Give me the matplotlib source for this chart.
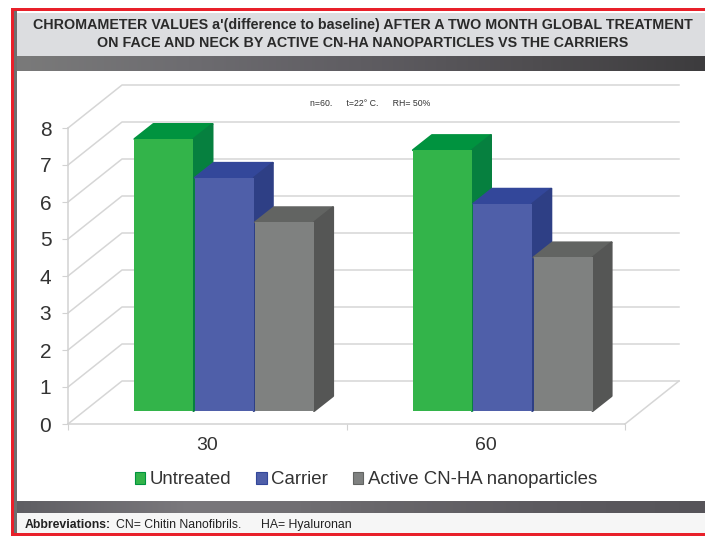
import numpy as np
import matplotlib
matplotlib.use("Agg")
import matplotlib.pyplot as plt
from matplotlib.patches import Polygon, Rectangle, Patch

plt.rcParams['font.family'] = ['Liberation Sans', 'DejaVu Sans']

W : int = 705
H : int = 539

days = ["30", "60"]
series_names = ["Untreated", "Carrier", "Active CN-HA nanoparticles"]
untreated = [7.35, 7.05]
carrier = [6.3, 5.6]
active = [5.1, 4.15]
y_ticks = [0, 1, 2, 3, 4, 5, 6, 7, 8]

title_lines = ["CHROMAMETER VALUES a'(difference to baseline) AFTER A TWO MONTH GLOBAL TREATMENT",
               "ON FACE AND NECK BY ACTIVE CN-HA NANOPARTICLES VS THE CARRIERS"]
note = "n=60.      t=22\u00b0 C.      RH= 50%"

## face, top, side
green = ["#33b44a", "#00933f", "#06803f"]
blue = ["#4f5fa9", "#33479a", "#2e3f85"]
grey = ["#7f8180", "#626462", "#555655"]

## background stuff in pixel coordinates
fig = plt.figure(figsize=(W / 100, H / 100), dpi=100, facecolor="white")
bg = fig.add_axes([0, 0, 1, 1])
bg.set_xlim(0, W)
bg.set_ylim(H, 0)
bg.axis("off")

def band(x0, x1, y0, y1, cols):
    ramp = np.array([matplotlib.colors.to_rgb(c) for c in cols])
    xs = np.linspace(0, len(cols) - 1, 300)
    img = np.stack([np.interp(xs, range(len(cols)), ramp[:, i]) for i in range(3)], axis=-1)
    bg.imshow(img[np.newaxis, :, :], extent=[x0, x1, y1, y0], aspect="auto", zorder=2)

bg.add_patch(Rectangle((17, 13), W - 17, 43, fc="#dcdde0", ec="none", zorder=1))
band(17, W, 56, 71, ["#7a7a7a", "#6d6c70", "#5f5d62", "#4f4d50", "#3d3c3e"])
band(17, W, 501, 513, ["#5f5e63", "#7b797d", "#6a686c", "#5d5b60", "#565459"])
bg.add_patch(Rectangle((17, 513), W - 17, 20, fc="#f6f6f6", ec="none", zorder=1))
bg.add_patch(Rectangle((14, 10), 3, 524, fc="#6e6e6e", ec="none", zorder=3))
bg.add_patch(Rectangle((11, 8), 3, 528, fc="#e8202a", ec="none", zorder=4))
bg.add_patch(Rectangle((11, 8), W - 11, 3, fc="#e8202a", ec="none", zorder=4))
bg.add_patch(Rectangle((11, 533), W - 11, 3, fc="#e8202a", ec="none", zorder=4))
bg.set_xlim(0, W)
bg.set_ylim(H, 0)

bg.text(363, 25, title_lines[0], ha="center", va="center", fontsize=10.3, fontweight="bold", color="#2a2a2a", zorder=5)
bg.text(363, 43, title_lines[1], ha="center", va="center", fontsize=10.3, fontweight="bold", color="#2a2a2a", zorder=5)
bg.text(370, 104, note, ha="center", va="center", fontsize=6.3, color="#333333", zorder=5)
bg.text(25, 525, "Abbreviations:", ha="left", va="center", fontsize=8.8, fontweight="bold", color="#222222", zorder=5)
bg.text(116, 525, "CN= Chitin Nanofibrils.", ha="left", va="center", fontsize=8.8, color="#222222", zorder=5)
bg.text(261, 525, "HA= Hyaluronan", ha="left", va="center", fontsize=8.8, color="#222222", zorder=5)

## chart axes, front plane of the 3d box
ax = fig.add_axes([68 / W, 1 - 424 / H, 557 / W, 296 / H], facecolor="none")
ax.set_xlim(0, 2)
ax.set_ylim(0, 8)
for s in ["top", "right"]:
    ax.spines[s].set_visible(False)
for s in ["left", "bottom"]:
    ax.spines[s].set_color("#d2d2d2")
    ax.spines[s].set_linewidth(1.1)

x_per_px = 2 / 557
y_per_px = 8 / 296
wall_dx = 54 * x_per_px
wall_dy = 43 * y_per_px
bar_dx = 17 * x_per_px
bar_dy = 13 * y_per_px
depth_dx = 19 * x_per_px
depth_dy = 15 * y_per_px
bar_w = 59 * x_per_px

## gridlines on the back wall and left wall
for v in y_ticks:
    ax.plot([0, wall_dx, 2 + wall_dx], [v, v + wall_dy, v + wall_dy], color="#d6d6d6", lw=1.1, clip_on=False, zorder=1)
ax.plot([2, 2 + wall_dx], [0, wall_dy], color="#d6d6d6", lw=1.1, clip_on=False, zorder=1)

## one bar: front face, then top and side
def bar3d(x_mid, val, cols, z):
    x0 = x_mid - bar_w / 2 + bar_dx
    x1 = x0 + bar_w
    ax.bar(x0, val, width=bar_w, bottom=bar_dy, align="edge", color=cols[0], clip_on=False, zorder=z + 0.2)
    top = [(x0, val + bar_dy), (x1, val + bar_dy), (x1 + depth_dx, val + bar_dy + depth_dy), (x0 + depth_dx, val + bar_dy + depth_dy)]
    side = [(x1, bar_dy), (x1 + depth_dx, bar_dy + depth_dy), (x1 + depth_dx, val + bar_dy + depth_dy), (x1, val + bar_dy)]
    ax.add_patch(Polygon(top, fc=cols[1], ec=cols[1], lw=1.5, clip_on=False, joinstyle="round", zorder=z))
    ax.add_patch(Polygon(side, fc=cols[2], ec=cols[2], lw=1.5, clip_on=False, joinstyle="round", zorder=z))

all_vals = [untreated, carrier, active]
all_cols = [green, blue, grey]
for g in range(len(days)):
    centre = g + 0.5
    for k in range(3):
        offset = (k - 1) * 0.2165
        bar3d(centre + offset, all_vals[k][g], all_cols[k], 3 + k)

ax.set_yticks(y_ticks)
ax.set_yticklabels([str(v) for v in y_ticks])
ax.set_xticks([0, 1, 2], minor=False)
ax.set_xticklabels(["", "", ""])
ax.tick_params(axis="both", length=4, color="#d2d2d2", labelsize=15, labelcolor="#333333", pad=8)
for g in range(len(days)):
    ax.text(g + 0.5, -0.58, days[g], ha="center", va="center", fontsize=14, color="#333333")

handles = [Patch(fc=c[0], ec=c[1], lw=0.8) for c in all_cols]
fig.legend(handles, series_names, loc="center", bbox_to_anchor=(366 / W, 1 - 480 / H), ncol=3, frameon=False,
           fontsize=13.4, handlelength=0.55, handleheight=0.55, handletextpad=0.25, columnspacing=1.35, labelcolor="#333333")

fig.savefig("out.png", dpi=100)
